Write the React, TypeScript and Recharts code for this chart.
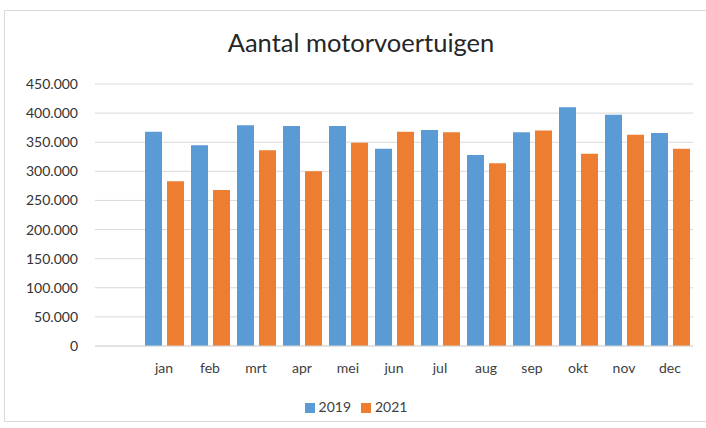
import { BarChart, Bar, XAxis, YAxis, CartesianGrid, Legend } from 'recharts'

const months = ['jan', 'feb', 'mrt', 'apr', 'mei', 'jun', 'jul', 'aug', 'sep', 'okt', 'nov', 'dec']
const values2019 = [368000, 345000, 379000, 378000, 378000, 339000, 371000, 328000, 367000, 410000, 397000, 366000]
const values2021 = [283000, 268000, 336000, 300000, 349000, 368000, 367000, 314000, 370000, 330000, 363000, 339000]
const yTicks = [0, 50000, 100000, 150000, 200000, 250000, 300000, 350000, 400000, 450000]

const data = months.map((m, i) => ({ month: m, '2019': values2019[i], '2021': values2021[i] }))

// Dutch thousands separator
const fmt = (v: number) => String(v).replace(/\B(?=(\d{3})+(?!\d))/g, '.')

const font = 'Lato, "Open Sans", sans-serif'

export default function App() {
  return (
    <div style={{ position: 'absolute', left: 0, top: 0, width: 706, height: 428, background: '#fff', fontFamily: font }}>
      <div
        style={{
          position: 'absolute',
          left: 4,
          top: 10,
          width: 720,
          height: 412,
          border: '1px solid #d9d9d9',
          boxSizing: 'border-box',
        }}
      />
      <div
        style={{
          position: 'absolute',
          left: 0,
          width: 722,
          top: 27,
          textAlign: 'center',
          fontSize: 25.5,
          color: '#262626',
        }}
      >
        Aantal motorvoertuigen
      </div>
      <div style={{ position: 'absolute', left: 0, top: 0 }}>
        <BarChart
          width={706}
          height={428}
          data={data}
          margin={{ top: 84, right: 13, left: 0, bottom: 35 }}
          barGap={5}
          barCategoryGap={4}
        >
          <CartesianGrid vertical={false} stroke="#d9d9d9" />
          <XAxis
            dataKey="month"
            padding={{ left: 46, right: 0 }}
            tickLine={false}
            tickSize={0}
            tickMargin={17}
            axisLine={{ stroke: '#d9d9d9' }}
            tick={{ fontSize: 14, fill: '#404040', fontFamily: font }}
            interval={0}
          />
          <YAxis
            width={95}
            domain={[0, 450000]}
            ticks={yTicks}
            tickFormatter={fmt}
            tickLine={false}
            tickSize={0}
            tickMargin={17}
            axisLine={false}
            tick={{ fontSize: 14, fill: '#333333', fontFamily: font }}
          />
          <Legend
            iconType="square"
            iconSize={10}
            wrapperStyle={{ position: 'absolute', left: 0, width: 722, top: 398, fontSize: 14, fontFamily: font }}
            formatter={(v: string) => <span style={{ color: '#404040' }}>{v}</span>}
          />
          <Bar dataKey="2019" fill="#5B9BD5" isAnimationActive={false} />
          <Bar dataKey="2021" fill="#ED7D31" isAnimationActive={false} />
        </BarChart>
      </div>
    </div>
  )
}
